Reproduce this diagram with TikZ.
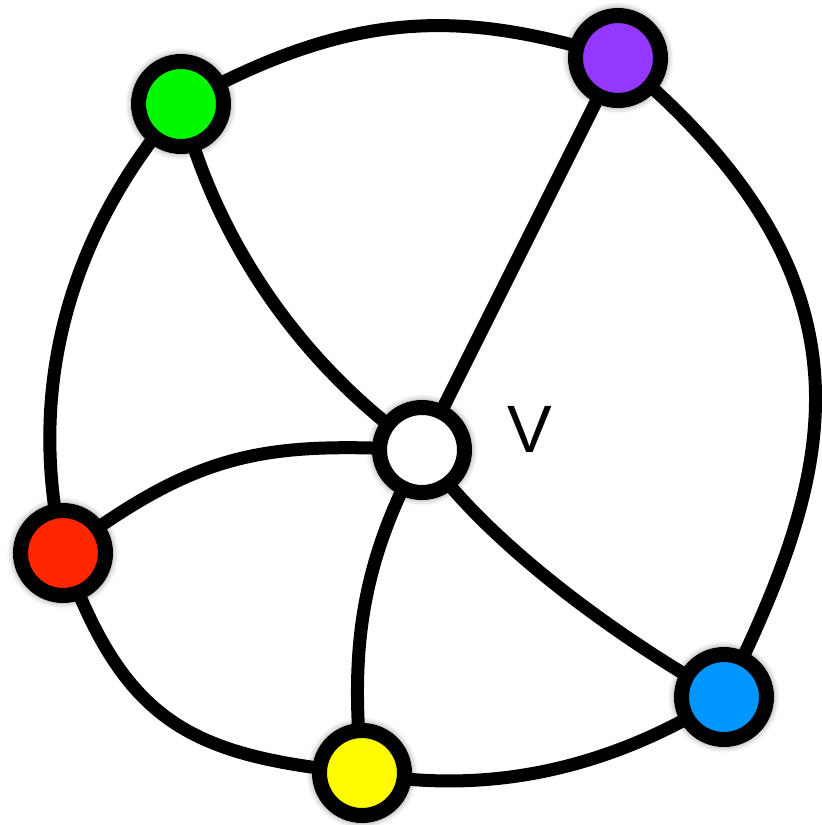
\documentclass[tikz,border=0pt]{standalone}
\usepackage{fontspec}
\setmainfont{Liberation Sans}
\usetikzlibrary{backgrounds,shadows.blur,calc}
\definecolor{spring}{HTML}{00F900}
\definecolor{grape}{HTML}{9437FF}
\definecolor{maraschino}{HTML}{FF2600}
\definecolor{lemon}{HTML}{FFFB00}
\definecolor{aqua}{HTML}{0096FF}
\tikzset{
  % vertex: thick black ring with a soft glow
  vert/.style = {circle, draw=black, line width=15pt, minimum size=85pt,
                 inner sep=0pt, fill=white,
                 blur shadow={shadow xshift=0pt, shadow yshift=0pt,
                              shadow scale=1.18, shadow blur radius=5pt,
                              shadow opacity=40}},
  % graph edge
  link/.style = {line width=13pt, black},
  % vertex name
  vlab/.style = {font=\fontsize{67}{67}\selectfont, inner sep=0pt},
}
\begin{document}
\begin{tikzpicture}[x=1pt, y=-1pt]
  \useasboundingbox (0,0) rectangle (822,825);

  % --- vertices ---
  \node[vert] (v) at (422,450) {};
  \node[vert, fill=spring]     (g) at (181,104) {};
  \node[vert, fill=grape]      (p) at (618,58)  {};
  \node[vert, fill=maraschino] (r) at (63,553)  {};
  \node[vert, fill=lemon]      (y) at (362,773) {};
  \node[vert, fill=aqua]       (b) at (724,697) {};

  \node[vlab] (vl) at ($(v)+(108,-21)$) {V};

  % --- edges (behind the vertices) ---
  \begin{scope}[on background layer]
    % outer cycle
    \draw[link] (g.center) .. controls +(172,-95) and +(-158,-49) .. (p.center);
    \draw[link] (p.center) .. controls +(275,228) and +(109,-222) .. (b.center);
    \draw[link] (b.center) .. controls +(-124,78) and +(116,21) .. (y.center);
    \draw[link] (y.center) .. controls +(-174,-17) and +(61,169) .. (r.center);
    \draw[link] (r.center) .. controls +(-8,-41) and +(-178,205) .. (g.center);
    % spokes from v
    \draw[link] (v.center) .. controls +(-119,-83) and +(36,140) .. (g.center);
    \draw[link] (v.center) -- (p.center);
    \draw[link] (v.center) .. controls +(-157,-8) and +(137,-103) .. (r.center);
    \draw[link] (v.center) .. controls +(-56,105) and +(-14,-136) .. (y.center);
    \draw[link] (v.center) .. controls +(69,99) and +(-91,-50) .. (b.center);
  \end{scope}

\end{tikzpicture}
\end{document}
